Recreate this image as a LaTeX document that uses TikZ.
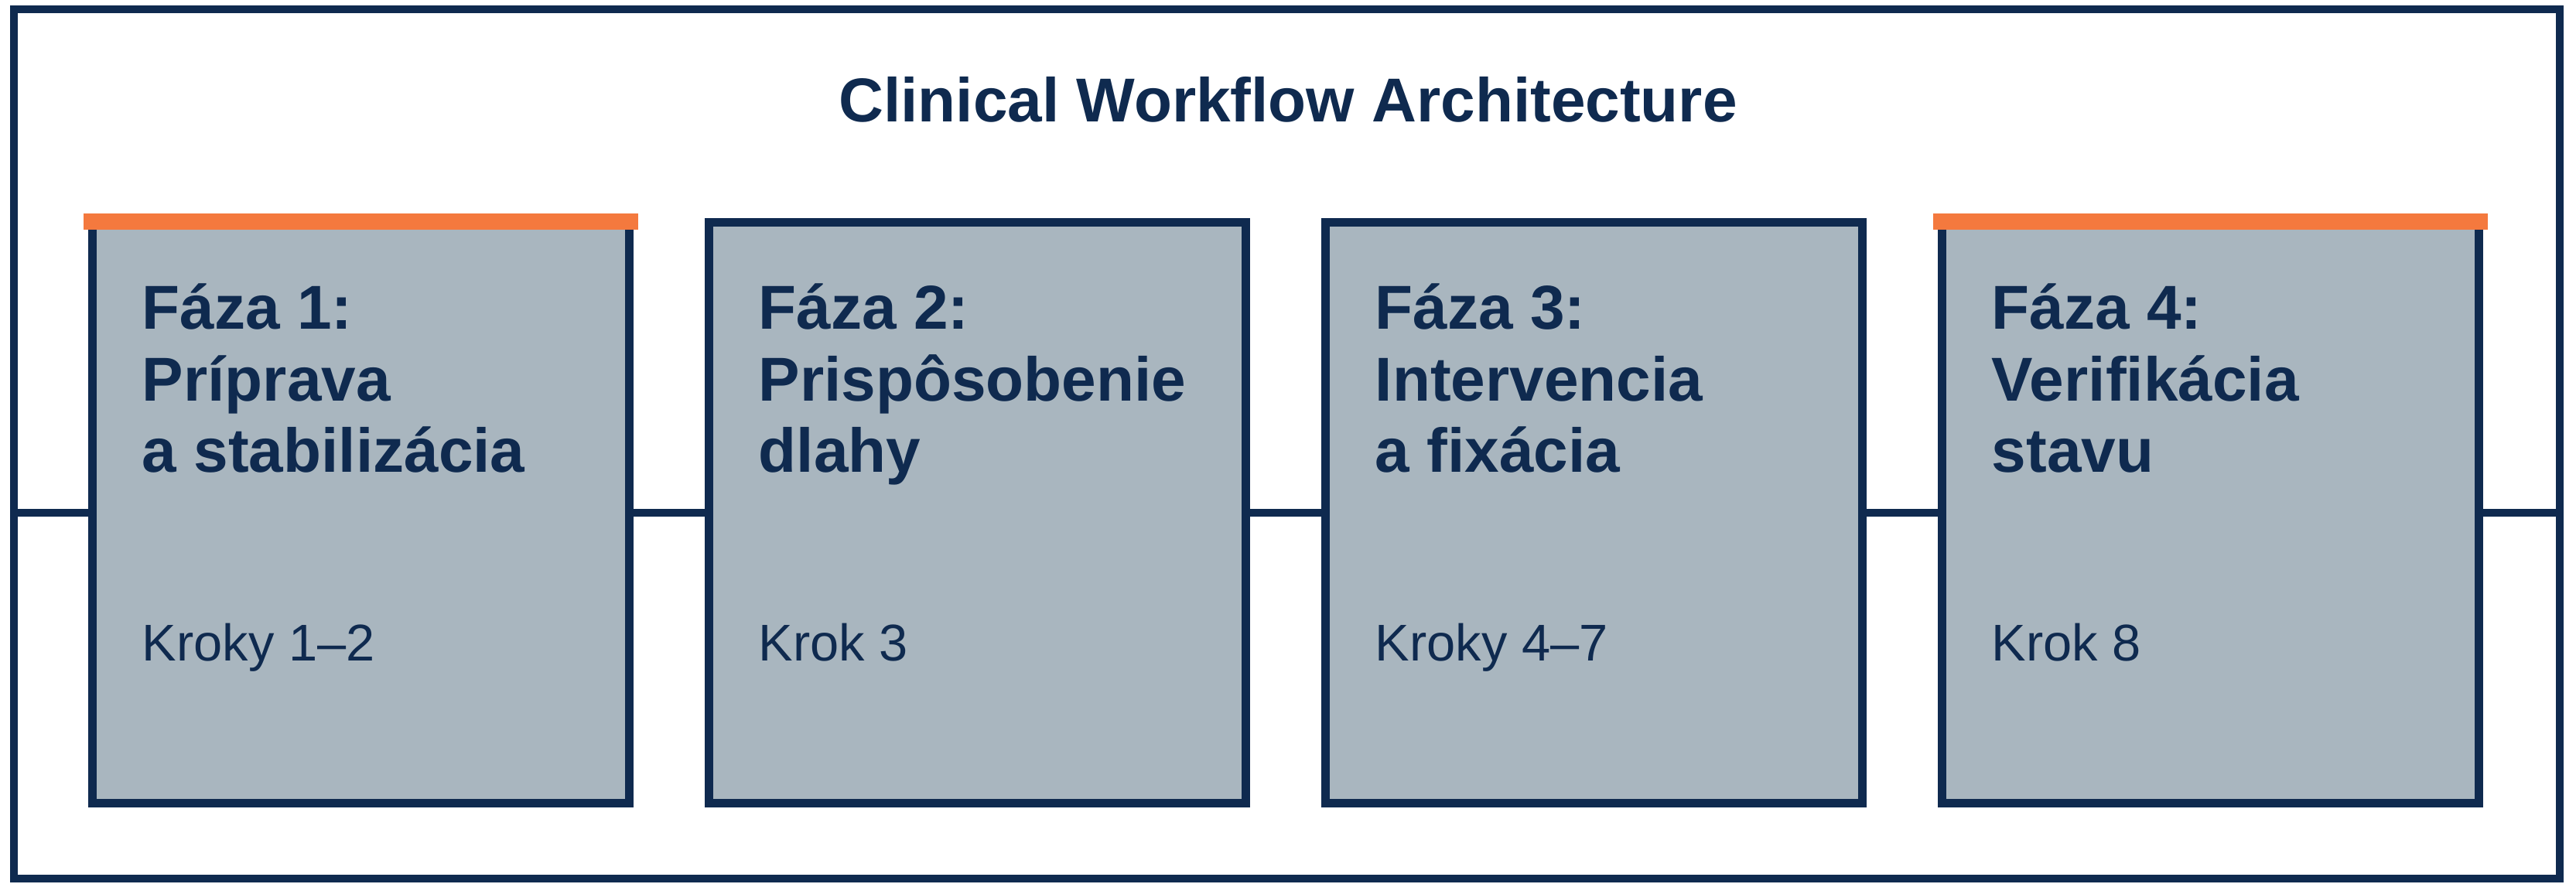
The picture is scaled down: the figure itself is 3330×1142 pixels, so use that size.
\documentclass[tikz,border=0pt]{standalone}
\usepackage{fontspec}
\setmainfont{Liberation Sans}
\usetikzlibrary{positioning,calc}
\definecolor{navy}{HTML}{0F2A4F}
\definecolor{slate}{HTML}{A9B6BF}
\definecolor{accent}{HTML}{F4793E}

\begin{document}
\begin{tikzpicture}[
        x=0.01cm, y=-0.01cm,
        frame/.style={draw=navy,line width=2.85pt,rectangle,minimum width=32.89cm,minimum height=11.24cm,inner sep=0pt},
        phase/.style={draw=navy,fill=slate,line width=3.2pt,rectangle,minimum width=6.93cm,minimum height=7.5cm,inner sep=0pt},
        head/.style={font=\fontsize{22.8}{26.2}\selectfont\bfseries,text=navy,align=left,inner sep=0pt,anchor=base west},
        steps/.style={font=\fontsize{19}{23}\selectfont,text=navy,inner sep=0pt,anchor=base west},
        title/.style={font=\fontsize{22.8}{27}\selectfont\bfseries,text=navy,inner sep=0pt,anchor=base}
    ]
    \useasboundingbox[fill=white] (0,0) rectangle (3330,1142);
    \node[frame] (frame) at (1663.5,574) {};
    \node[title] (title) at (1665,157) {Clinical Workflow Architecture};
    \node[phase] (p1) at (466.5,663) {};
    \node[phase] (p2) at (1263.5,663) {};
    \node[phase] (p3) at (2060.5,663) {};
    \node[phase] (p4) at (2857.5,663) {};
    \fill[accent] ($(p1.north west)+(-6,-6)$) rectangle ($(p1.north east)+(6,15)$);
    \fill[accent] ($(p4.north west)+(-6,-6)$) rectangle ($(p4.north east)+(6,15)$);
    \draw[navy,line width=3.1pt] (frame.west |- p1.west)--(p1.west) (p1.east)--(p2.west) (p2.east)--(p3.west) (p3.east)--(p4.west) (p4.east)--(frame.east |- p4.east);
    \node[head] (h1) at ($(p1.north west)+(69,328)$) {Fáza 1:\\Príprava\\a stabilizácia};
    \node[head] (h2) at ($(p2.north west)+(69,328)$) {Fáza 2:\\Prispôsobenie\\dlahy};
    \node[head] (h3) at ($(p3.north west)+(69,328)$) {Fáza 3:\\Intervencia\\a fixácia};
    \node[head] (h4) at ($(p4.north west)+(69,328)$) {Fáza 4:\\Verifikácia\\stavu};
    \node[steps] (s1) at ($(p1.north west)+(69,572)$) {Kroky 1–2};
    \node[steps] (s2) at ($(p2.north west)+(69,572)$) {Krok 3};
    \node[steps] (s3) at ($(p3.north west)+(69,572)$) {Kroky 4–7};
    \node[steps] (s4) at ($(p4.north west)+(69,572)$) {Krok 8};
\end{tikzpicture}
\end{document}
